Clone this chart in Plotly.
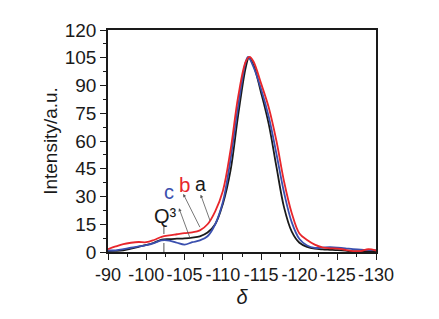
import plotly.graph_objects as go

# ---- data ----
x_a = [-95, -96, -97, -98, -99, -100, -101, -102, -103, -104, -105, -106, -107, -108, -109, -110,
       -111, -112, -113, -113.4, -114, -115, -116, -117, -118, -119, -120, -121, -122, -123, -124,
       -125, -126, -127, -128, -129, -130]
y_a = [0.5, 0.6, 0.9, 1.8, 2.8, 3.8, 5.0, 6.7, 7.0, 7.2, 7.4, 7.8, 8.5, 10.5, 15, 26,
       44, 74, 100, 105, 101, 86, 69, 46, 24, 11, 5, 2.8, 1.8, 1.4, 1.2,
       1.0, 0.7, 0.3, 0.3, 0.4, 0.3]

x_b = [-95, -96, -97, -98, -99, -100, -101, -102, -103, -104, -105, -106, -107, -108, -109, -110,
       -111, -112, -113, -113.5, -114, -115, -116, -117, -118, -119, -120, -121, -122, -123, -124,
       -125, -126, -127, -128, -129, -130]
y_b = [1.5, 3.0, 4.3, 5.0, 5.4, 5.3, 6.5, 8.2, 9.0, 9.6, 10.2, 10.6, 11.7, 15, 22, 33,
       55, 84, 103, 105.5, 103, 91, 78, 60, 38, 21, 10, 6.5, 4.0, 2.5, 2.0,
       1.8, 1.2, 0.5, 0.5, 1.5, 0.8]

x_c = [-95, -96, -97, -98, -99, -100, -101, -102, -103, -104, -105, -106, -107, -108, -109, -110,
       -111, -112, -113, -113.3, -114, -115, -116, -117, -118, -119, -120, -121, -122, -123, -124,
       -125, -126, -127, -128, -129, -130]
y_c = [0.8, 0.9, 1.5, 2.3, 3.0, 3.7, 4.8, 6.3, 6.2, 5.0, 4.0, 5.3, 6.3, 8.5, 15, 27,
       50, 79, 103, 105.5, 100, 88, 73, 53, 32, 16, 7, 3.5, 2.2, 2.4, 2.6,
       2.4, 2.0, 1.5, 1.3, 1.0, 1.0]

x_tick_vals = [-95, -100, -105, -110, -115, -120, -125, -130]
x_tick_text = ["-90", "-100", "-105", "-110", "-115", "-120", "-125", "-130"]
y_tick_vals = [0, 15, 30, 45, 60, 75, 90, 105, 120]

RED = "#e8262b"
BLUE = "#3a4fae"
BLACK = "#1a1a1a"
FONT = "Liberation Sans, Arial, sans-serif"

fig = go.Figure()
fig.add_trace(go.Scatter(x=x_a, y=y_a, mode="lines", line=dict(color=BLACK, width=1.8, shape="spline"), showlegend=False))
fig.add_trace(go.Scatter(x=x_c, y=y_c, mode="lines", line=dict(color=BLUE, width=1.8, shape="spline"), showlegend=False))
fig.add_trace(go.Scatter(x=x_b, y=y_b, mode="lines", line=dict(color=RED, width=1.8, shape="spline"), showlegend=False))

# dashed Q3 marker
fig.add_shape(type="line", x0=-102.3, x1=-102.3, y0=0, y1=15.0, xref="x", yref="y",
              line=dict(color="#555", width=1, dash="dash"))

# arrows
arrow_style = dict(showarrow=True, arrowhead=2, arrowsize=0.8, arrowwidth=0.8,
                   arrowcolor="#555", axref="x", ayref="y", text="")
fig.add_annotation(x=-107.1, y=31.0, ax=-108.4, ay=16.1, **arrow_style)
fig.add_annotation(x=-104.83, y=31.4, ax=-107.1, ay=12.6, **arrow_style)
fig.add_annotation(x=-104.27, y=23.7, ax=-105.8, ay=6.5, **arrow_style)

# labels
fig.add_annotation(x=-105.0, y=36.5, text="b", showarrow=False, font=dict(color=RED, size=20.5, family=FONT))
fig.add_annotation(x=-107.1, y=37.0, text="a", showarrow=False, font=dict(color=BLACK, size=19.5, family=FONT))
fig.add_annotation(x=-103.0, y=32.3, text="c", showarrow=False, font=dict(color=BLUE, size=20, family=FONT))
fig.add_annotation(x=-102.45, y=19.6, text="Q³", showarrow=False, font=dict(color=BLACK, size=20, family=FONT))

# page body has an 8px margin, so the figure is shifted by 8px
fig.update_layout(
    width=431, height=311,
    margin=dict(l=100, r=63, t=16, b=67),
    paper_bgcolor="white", plot_bgcolor="white",
    font=dict(family=FONT, color=BLACK),
)
fig.update_xaxes(
    range=[-95, -130], tickvals=x_tick_vals, ticktext=x_tick_text, tickangle=0,
    ticks="outside", ticklen=6, tickwidth=1.2, tickcolor=BLACK,
    minor=dict(dtick=2.5, tick0=-95, ticks="outside", ticklen=3, tickcolor=BLACK, showgrid=False),
    showline=True, linecolor=BLACK, linewidth=1.5, mirror=True,
    showgrid=False, zeroline=False,
    tickfont=dict(size=18, family=FONT, color=BLACK),
    title=dict(text="<i>δ</i>", font=dict(size=20, family=FONT, color=BLACK), standoff=6),
)
fig.update_yaxes(
    range=[0, 120], tickvals=y_tick_vals,
    ticks="outside", ticklen=6, tickwidth=1.2, tickcolor=BLACK,
    minor=dict(dtick=7.5, ticks="outside", ticklen=3, tickcolor=BLACK, showgrid=False),
    showline=True, linecolor=BLACK, linewidth=1.5, mirror=True,
    showgrid=False, zeroline=False,
    tickfont=dict(size=19, family=FONT, color=BLACK),
    title=dict(text="Intensity/a.u.", font=dict(size=19, family=FONT, color=BLACK), standoff=2),
)

fig.write_html("out.html")
